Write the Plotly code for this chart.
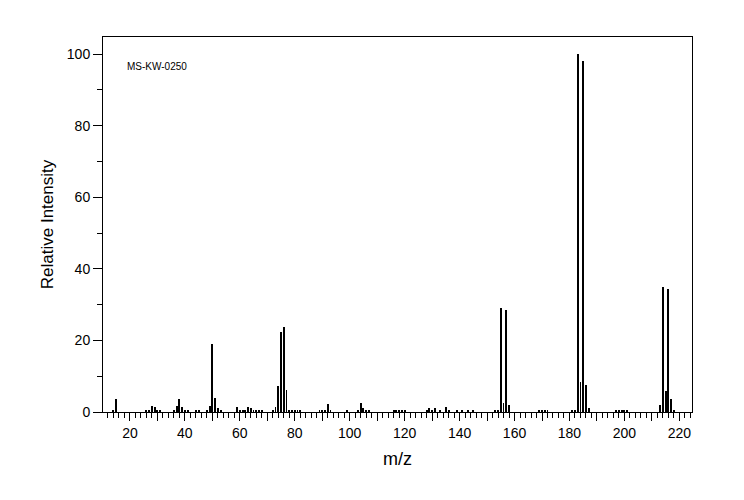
import plotly.graph_objects as go

# m/z values and relative intensities
mz = [14, 15, 26, 27, 28, 29, 30, 31, 36, 37, 38, 39, 40, 41, 44, 45, 48, 49, 50, 51,
      52, 53, 59, 60, 61, 62, 63, 64, 65, 66, 67, 68, 72, 73, 74, 75, 76, 77, 78, 79,
      80, 81, 82, 89, 90, 91, 92, 93, 99, 103, 104, 105, 106, 107, 116, 117, 118, 119, 120,
      128, 129, 130, 131, 133, 135, 136, 139, 141, 143, 145, 153, 154, 155, 156, 157, 158,
      169, 170, 171, 172, 181, 182, 183, 184, 185, 186, 187, 197, 198, 199, 200, 201,
      213, 214, 215, 216, 217, 218]
intensity = [0.4, 3.7, 0.4, 0.7, 1.8, 1.5, 0.7, 0.4, 0.4, 1.8, 3.7, 1.5, 0.4, 0.4, 0.4, 0.4, 0.4, 1.8, 19.1, 4.0,
             1.0, 0.7, 1.5, 0.4, 0.4, 0.7, 1.5, 1.2, 0.7, 0.4, 0.7, 0.4, 0.4, 1.5, 7.3, 22.4, 23.8, 6.2, 0.7, 0.7,
             0.7, 0.4, 0.7, 0.4, 0.4, 0.7, 2.1, 0.7, 0.4, 0.4, 2.6, 1.0, 0.4, 0.4, 0.4, 0.4, 0.4, 0.7, 0.7,
             0.4, 1.0, 0.7, 1.0, 0.4, 1.5, 0.4, 0.4, 0.4, 0.4, 0.4, 0.4, 0.4, 29.1, 2.6, 28.6, 2.0,
             0.4, 0.4, 0.4, 0.4, 0.4, 0.4, 100.0, 8.3, 98.0, 7.6, 1.0, 0.4, 0.4, 0.4, 0.4, 0.4,
             2.0, 35.0, 5.8, 34.5, 3.5, 0.4]

x_tickvals = list(range(10, 230, 10))
x_ticktext = [str(v) if v % 20 == 0 else "" for v in x_tickvals]
y_tickvals = [0, 20, 40, 60, 80, 100]

FONT = "Liberation Sans"

fig = go.Figure()
fig.add_trace(go.Bar(
    x=mz, y=intensity, width=0.33,
    marker=dict(color="black", line=dict(width=0)),
    showlegend=False,
))

fig.update_layout(
    width=736, height=492,
    margin=dict(l=95, r=52, t=29, b=88),
    paper_bgcolor="white", plot_bgcolor="white",
    font=dict(family=FONT, color="black", size=14),
    bargap=0,
    xaxis=dict(
        range=[10.2, 224.6],
        tickmode="array", tickvals=x_tickvals, ticktext=x_ticktext,
        ticks="outside", ticklen=8, tickwidth=1, tickcolor="black",
        minor=dict(dtick=2, tick0=0, ticks="outside", ticklen=5, tickwidth=1, tickcolor="black"),
        showline=True, linecolor="black", linewidth=1, mirror=True,
        showgrid=False, zeroline=False,
        tickfont=dict(size=14, family=FONT),
        title=dict(text="m/z", font=dict(size=18, family=FONT), standoff=12),
    ),
    yaxis=dict(
        range=[0, 104.8],
        tickmode="array", tickvals=y_tickvals,
        ticks="outside", ticklen=9, tickwidth=1, tickcolor="black",
        minor=dict(dtick=10, tick0=0, ticks="outside", ticklen=5, tickwidth=1, tickcolor="black"),
        showline=True, linecolor="black", linewidth=1, mirror=True,
        showgrid=False, zeroline=False,
        tickfont=dict(size=14, family=FONT),
        title=dict(text="Relative Intensity", font=dict(size=17, family=FONT), standoff=8),
    ),
    annotations=[dict(
        text="MS-KW-0250", xref="paper", yref="paper",
        x=0.038, y=0.92, xanchor="left", yanchor="middle",
        showarrow=False, font=dict(size=10, family=FONT),
    )],
)

fig.write_html("out.html")
